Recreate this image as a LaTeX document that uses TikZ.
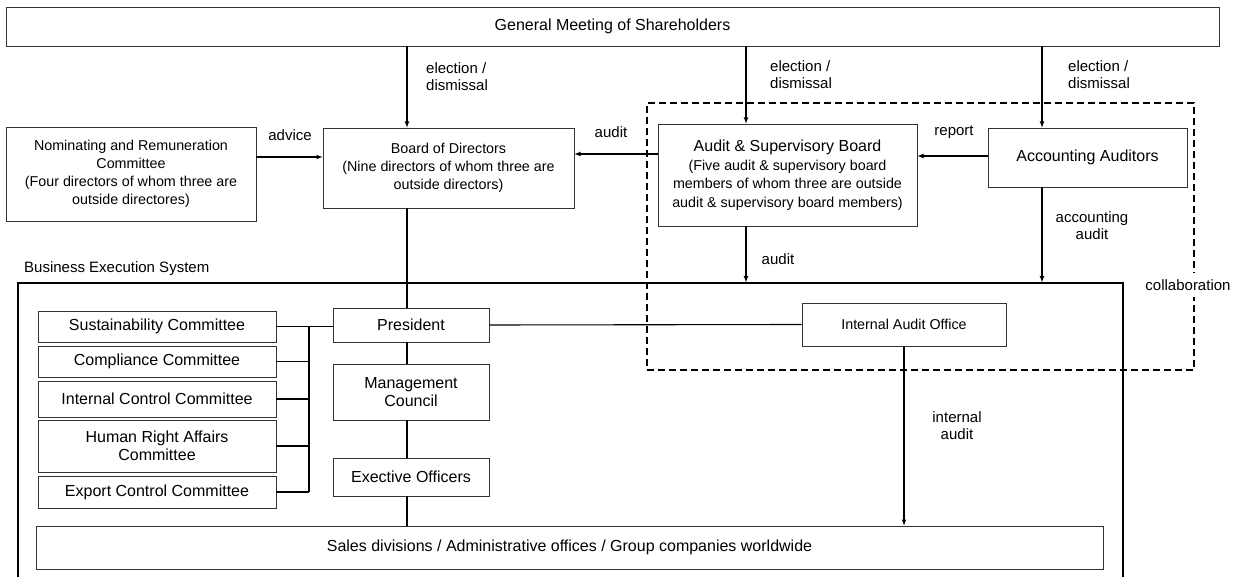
\documentclass[tikz,border=0pt]{standalone}
\usepackage{fontspec}
\setmainfont{Liberation Sans}
\usetikzlibrary{arrows}
\newcommand{\bigfont}{\fontsize{16}{18.5}\selectfont}
\newcommand{\descfont}{\fontsize{14.3}{18}\selectfont}
\newcommand{\lblfont}{\fontsize{15}{17}\selectfont}

\begin{document}
\begin{tikzpicture}[x=1pt,y=-1pt,
        box/.style={draw=black!80,line width=0.8pt,inner sep=0pt,align=center,font=\bigfont},
        lbl/.style={inner sep=0pt,align=center,font=\lblfont},
        conn/.style={line width=1.1pt},
        arr/.style={conn,-latex}]
    \useasboundingbox (0,0) rectangle (1240,577);
    % frames
    \node[draw,line width=1.3pt,minimum width=1105pt,minimum height=300pt] (bes) at (570.5,433) {};
    \node[draw,dash pattern=on 7pt off 4pt,line width=1.2pt,minimum width=547pt,minimum height=267pt] (collab) at (920.5,236.5) {};
    % boxes
    \node[box,minimum width=1213pt,minimum height=39pt] (gm) at (612.5,26.5) {General Meeting of Shareholders};
    \node[box,font=\descfont,minimum width=250pt,minimum height=94pt] (nom) at (131,174) {Nominating and Remuneration\\Committee\\(Four directors of whom three are\\outside directores)};
    \node[box,font=\descfont,minimum width=251pt,minimum height=80pt] (board) at (448.5,168) {Board of Directors\\(Nine directors of whom three are\\outside directors)};
    \node[box,minimum width=259pt,minimum height=102pt] (asb) at (787.5,175) {Audit \& Supervisory Board\\\descfont(Five audit \& supervisory board\\\descfont members of whom three are outside\\\descfont audit \& supervisory board members)};
    \node[box,minimum width=199pt,minimum height=59pt] (acc) at (1087.5,157.5) {Accounting Auditors};
    \node[box,minimum width=238pt,minimum height=31pt] (sus) at (157,326.5) {Sustainability Committee};
    \node[box,minimum width=238pt,minimum height=31pt] (comp) at (157,361.5) {Compliance Committee};
    \node[box,minimum width=238pt,minimum height=36pt] (ictl) at (157,399) {Internal Control Committee};
    \node[box,minimum width=238pt,minimum height=52pt] (hr) at (157,446) {Human Right Affairs\\Committee};
    \node[box,minimum width=238pt,minimum height=32pt] (expc) at (157,492) {Export Control Committee};
    \node[box,minimum width=156pt,minimum height=34pt] (pres) at (411,325) {President};
    \node[box,minimum width=156pt,minimum height=56pt] (mgmt) at (411,392) {Management\\Council};
    \node[box,minimum width=156pt,minimum height=38pt] (exec) at (411,477) {Exective Officers};
    \node[box,font=\descfont,minimum width=204pt,minimum height=43pt] (iao) at (904,324.5) {Internal Audit Office};
    \node[box,minimum width=1067pt,minimum height=43pt] (sales) at (569.5,547.5) {Sales divisions / Administrative offices / Group companies worldwide};
    % guide coordinates
    \coordinate (trunk) at (407,0);
    \coordinate (asbx) at (746,0);
    \coordinate (accx) at (1042,0);
    \coordinate (bus) at (309,0);
    \coordinate (advy) at (0,157);
    \coordinate (audy) at (0,154);
    \coordinate (repy) at (0,156);
    % connectors
    \draw[arr] (gm.south -| trunk) -- (board.north -| trunk);
    \draw[arr] (gm.south -| asbx) -- (asb.north -| asbx);
    \draw[arr] (gm.south -| accx) -- (acc.north -| accx);
    \draw[arr] (nom.east |- advy) -- (board.west |- advy);
    \draw[arr] (asb.west |- audy) -- (board.east |- audy);
    \draw[arr] (acc.west |- repy) -- (asb.east |- repy);
    \draw[arr] (asb.south -| asbx) -- (bes.north -| asbx);
    \draw[arr] (acc.south -| accx) -- (bes.north -| accx);
    \draw[arr] (iao.south) -- (iao.south |- sales.north);
    \draw[conn] (board.south -| trunk) -- (pres.north -| trunk);
    \draw[conn] (pres.south -| trunk) -- (mgmt.north -| trunk);
    \draw[conn] (mgmt.south -| trunk) -- (exec.north -| trunk);
    \draw[conn] (exec.south -| trunk) -- (sales.north -| trunk);
    \draw[conn] (pres.east) -- (iao.west);
    \draw[conn] (sus.east) -- (sus.east -| pres.west);
    \draw[conn] (sus.east -| bus) -- (expc.east -| bus);
    \foreach \c in {comp,ictl,hr,expc}
        \draw[conn] (\c.east) -- (\c.east -| bus);
    % labels
    \node[lbl,anchor=west,align=left] (elect1) at (426,77) {election /\\dismissal};
    \node[lbl,anchor=west,align=left] (elect2) at (770,75) {election /\\dismissal};
    \node[lbl,anchor=west,align=left] (elect3) at (1068,75) {election /\\dismissal};
    \node[lbl] (advlbl) at (290,135) {advice};
    \node[lbl] (audlbl) at (611,132) {audit};
    \node[lbl] (replbl) at (954,132) {report};
    \node[lbl] (acclbl) at (1092,226) {accounting\\audit};
    \node[lbl] (asblbl) at (778,259) {audit};
    \node[lbl] (intlbl) at (957,426) {internal\\audit};
    \node[lbl,fill=white,inner xsep=1pt,inner ysep=6pt] (collbl) at (1188,285) {collaboration};
    \node[lbl,anchor=west] (beslbl) at (24,269) {Business Execution System};
\end{tikzpicture}
\end{document}
